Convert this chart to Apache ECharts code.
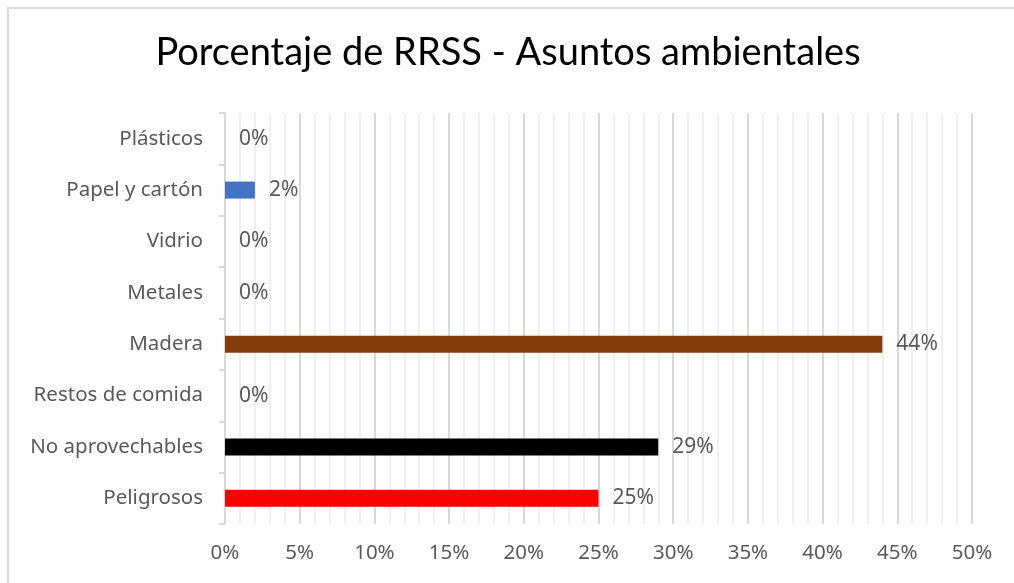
<!DOCTYPE html>
<html>
<head>
<meta charset="utf-8">
<script src="https://cdn.jsdelivr.net/npm/echarts@6/dist/echarts.min.js"></script>
<style>
  html, body { margin: 0; padding: 0; background: #fff; }
  #frame {
    position: absolute; left: 7px; top: 7px; width: 1100px; height: 700px;
    border-left: 2px solid #d9d9d9; border-top: 2px solid #d9d9d9;
  }
  #chart { position: absolute; left: 0; top: 0; width: 1014px; height: 583px; }
</style>
</head>
<body>
<div id="frame"></div>
<div id="chart"></div>
<script>
const categories = ['Plásticos', 'Papel y cartón', 'Vidrio', 'Metales', 'Madera', 'Restos de comida', 'No aprovechables', 'Peligrosos']
const values = [0, 2, 0, 0, 44, 0, 29, 25]
const barColors = ['#4472C4', '#4472C4', '#A5A5A5', '#7F7F7F', '#843C0C', '#70AD47', '#000000', '#FF0000']
const xTicks = { min: 0, max: 50, step: 5 }

const labelColor = '#595959'
const labelFont = 'Noto Sans'

const chart = echarts.init(document.getElementById('chart'))

chart.setOption({
  animation: false,
  title: {
    text: 'Porcentaje de RRSS - Asuntos ambientales',
    left: 503,
    top: 29,
    textAlign: 'center',
    textStyle: { fontFamily: 'Lato', fontSize: 38, fontWeight: 'normal', color: '#000' }
  },
  grid: { left: 225, right: 42, top: 113, bottom: 59 },
  xAxis: {
    type: 'value',
    min: xTicks.min,
    max: xTicks.max,
    interval: xTicks.step,
    axisLine: { show: false },
    axisTick: { show: false },
    axisLabel: {
      formatter: '{value}%',
      color: labelColor,
      fontFamily: labelFont,
      fontSize: 20.5,
      margin: 19
    },
    splitLine: { show: true, lineStyle: { color: '#d9d9d9', width: 2 } },
    minorSplitLine: { show: true, lineStyle: { color: '#efefef', width: 2 } },
    minorTick: { show: false, splitNumber: 5 }
  },
  yAxis: {
    type: 'category',
    inverse: true,
    data: categories,
    axisLine: { show: true, lineStyle: { color: '#d9d9d9', width: 2 } },
    axisTick: { show: true, length: 6, lineStyle: { color: '#d9d9d9', width: 2 } },
    axisLabel: {
      color: labelColor,
      fontFamily: labelFont,
      fontSize: 20.5,
      margin: 22
    }
  },
  series: [{
    type: 'bar',
    barWidth: 17,
    data: values.map((v, i) => ({ value: v, itemStyle: { color: barColors[i] } })),
    label: {
      show: true,
      position: 'right',
      distance: 14,
      formatter: '{c}%',
      color: labelColor,
      fontFamily: labelFont,
      fontSize: 21
    }
  }]
})
</script>
</body>
</html>
